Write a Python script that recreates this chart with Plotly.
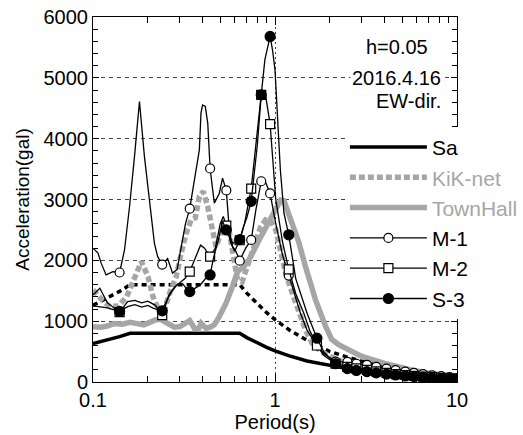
import plotly.graph_objects as go

# ---------------- data ----------------
sa_T = [0.1, 0.12, 0.14, 0.16, 0.64, 0.7, 0.8, 0.9, 1.0, 1.2, 1.5, 2, 2.5, 3, 4, 5, 6, 8, 10]
sa_A = [630, 690, 745, 800, 800, 730, 640, 570, 512, 430, 345, 270, 215, 175, 130, 105, 88, 66, 52]

sa2_T = [0.1, 0.12, 0.14, 0.16, 0.64, 0.7, 0.8, 0.9, 1.0, 1.2, 1.5, 2, 2.5, 3, 4, 5, 6, 8, 10]
sa2_A = [1260, 1380, 1490, 1600, 1600, 1460, 1280, 1140, 1024, 855, 685, 500, 410, 340, 256, 205, 170, 128, 102]

kik_T = [0.1, 0.112, 0.124, 0.138, 0.153, 0.166, 0.1845, 0.2006, 0.2136, 0.2274, 0.242, 0.2636,
         0.2866, 0.305, 0.325, 0.346, 0.365, 0.384, 0.404, 0.427, 0.454, 0.474, 0.505, 0.538,
         0.555, 0.584, 0.622, 0.66, 0.706, 0.768, 0.835, 0.889, 0.947, 1.01, 1.075, 1.144,
         1.244, 1.353, 1.472, 1.6, 1.8, 2.0, 2.5, 3, 4, 5, 7, 10]
kik_A = [1513, 1350, 1240, 1250, 1400, 1680, 1980, 1730, 1400, 1210, 1100, 1460,
         1730, 2115, 2445, 2665, 2700, 3050, 3130, 2880, 2445, 2225, 2445, 2665,
         2550, 2115, 1680, 1650, 1900, 2280, 2555, 2665, 2650, 2500, 2115, 1790,
         1460, 1130, 855, 635, 500, 420, 300, 240, 170, 130, 90, 60]

town_T = [0.1, 0.11, 0.12, 0.13, 0.145, 0.16, 0.175, 0.19, 0.205, 0.22, 0.235, 0.25, 0.265,
          0.28, 0.3, 0.32, 0.34, 0.361, 0.38, 0.393, 0.418, 0.44, 0.464, 0.494, 0.538, 0.584,
          0.622, 0.677, 0.736, 0.818, 0.947, 1.075, 1.12, 1.2, 1.27, 1.35, 1.47, 1.67, 1.9,
          2.05, 2.25, 2.44, 3.0, 4.0, 5.6, 7.5, 10]
town_A = [910, 900, 920, 960, 950, 980, 960, 940, 980, 1020, 1030, 990, 930,
          900, 910, 960, 1010, 880, 870, 965, 880, 900, 940, 1075, 1295, 1570,
          1815, 1900, 2060, 2335, 2665, 2990, 2980, 2750, 2550, 2300, 1900, 1350, 910,
          700, 610, 560, 420, 305, 197, 130, 87]

m1_T = [0.1, 0.1065, 0.111, 0.118, 0.1286, 0.14, 0.149, 0.1587, 0.169, 0.18, 0.1917, 0.204,
        0.2175, 0.2266, 0.24, 0.257, 0.2736, 0.29, 0.3038, 0.322, 0.34, 0.353, 0.369, 0.384,
        0.392, 0.4, 0.414, 0.427, 0.44, 0.464, 0.494, 0.515, 0.54, 0.561, 0.584, 0.61, 0.64,
        0.69, 0.74, 0.785, 0.84, 0.875, 0.94, 1.01, 1.097, 1.19, 1.3, 1.38, 1.5, 1.7, 1.85,
        2.15, 2.5, 2.8, 3.2, 3.6, 4.1, 4.6, 5.2, 5.8, 6.5, 7.3, 8.2, 9.1, 10]
m1_A = [2200, 2120, 1950, 1760, 1815, 1800, 2170, 2880, 3705, 4610, 3705, 2990,
        2280, 2060, 1930, 2030, 1790, 1850, 2170, 2600, 2850, 3160, 3490, 3815,
        4420, 4555, 4530, 4255, 3510, 2940, 3100, 3350, 3150, 2500, 2225, 2150, 1995,
        2200, 2335, 2830, 3300, 3330, 3100, 2600, 2100, 1750, 1400, 1130, 850, 600, 470,
        335, 330, 300, 280, 250, 220, 195, 170, 150, 130, 110, 95, 80, 65]

m2_T = [0.1, 0.109, 0.12, 0.14, 0.155, 0.17, 0.185, 0.2, 0.22, 0.24, 0.25, 0.26, 0.28, 0.30,
        0.32, 0.34, 0.37, 0.39, 0.41, 0.44, 0.47, 0.5, 0.52, 0.54, 0.57, 0.6, 0.64, 0.68,
        0.74, 0.8, 0.84, 0.88, 0.94, 1.01, 1.1, 1.19, 1.3, 1.44, 1.55, 1.7, 1.85, 2.15, 2.5,
        2.8, 3.2, 3.6, 4.1, 4.6, 5.2, 5.8, 6.5, 7.3, 8.2, 9.1, 10]
m2_A = [1430, 1540, 1300, 1150, 1320, 1340, 1300, 1330, 1260, 1100, 1250, 1420, 1560, 1640,
        1700, 1815, 2100, 2250, 2200, 2060, 2200, 2600, 2720, 2570, 2300, 2150, 2330, 2600,
        3180, 4100, 4720, 4780, 4240, 3000, 2300, 1850, 1450, 1130, 850, 600, 440, 300, 250,
        225, 200, 175, 150, 130, 115, 100, 90, 80, 70, 60, 50]

s3_T = [0.1, 0.12, 0.14, 0.155, 0.17, 0.185, 0.2, 0.215, 0.24, 0.25, 0.27, 0.29, 0.31, 0.325,
        0.34, 0.36, 0.39, 0.415, 0.44, 0.46, 0.49, 0.515, 0.54, 0.56, 0.585, 0.61, 0.64, 0.67,
        0.7, 0.74, 0.8, 0.84, 0.88, 0.94, 0.97, 1.0, 1.03, 1.07, 1.12, 1.19, 1.3, 1.5, 1.7,
        1.85, 2.15, 2.5, 2.8, 3.2, 3.6, 4.1, 4.6, 5.2, 5.8, 6.5, 7.3, 8.2, 9.1, 10]
s3_A = [1250, 1220, 1160, 1240, 1270, 1230, 1260, 1210, 1170, 1300, 1480, 1600, 1620, 1540,
        1485, 1530, 1600, 1700, 1760, 2050, 2350, 2640, 2500, 2380, 2280, 2300, 2340, 2550,
        2700, 2970, 3900, 4720, 5300, 5680, 5450, 5130, 4310, 3490, 2775, 2420, 1700, 1130, 720,
        500, 300, 220, 190, 170, 150, 130, 115, 100, 90, 80, 70, 60, 52, 45]

# periods at which symbols are drawn on the model curves
marker_T = [0.14, 0.24, 0.34, 0.44, 0.54, 0.64, 0.74, 0.84, 0.94, 1.19, 1.7, 2.15, 2.5, 2.8,
            3.2, 3.6, 4.1, 4.6, 5.2, 5.8, 6.5, 7.3, 8.2, 9.1, 10]

GRAY = "#a6a6a6"
FONT = "Liberation Sans, Arial, sans-serif"

fig = go.Figure()

fig.add_trace(go.Scatter(x=sa2_T, y=sa2_A, mode="lines", showlegend=False,
                         line=dict(color="black", width=3.5, dash="5px,4px")))
fig.add_trace(go.Scatter(x=sa_T, y=sa_A, mode="lines", showlegend=False,
                         line=dict(color="black", width=3.5)))
fig.add_trace(go.Scatter(x=kik_T, y=kik_A, mode="lines", showlegend=False,
                         line=dict(color=GRAY, width=5.5, dash="6px,3px")))
fig.add_trace(go.Scatter(x=town_T, y=town_A, mode="lines", showlegend=False,
                         line=dict(color=GRAY, width=5.5)))


def model(T, A, symbol, fill):
    fig.add_trace(go.Scatter(x=T, y=A, mode="lines", showlegend=False,
                             line=dict(color="black", width=1.3)))
    idx = [i for i, t in enumerate(T) if t in marker_T]
    fig.add_trace(go.Scatter(x=[T[i] for i in idx], y=[A[i] for i in idx], mode="markers",
                             showlegend=False,
                             marker=dict(symbol=symbol, size=10 if fill == "black" else 9,
                                         color=fill, line=dict(color="black", width=1.2))))


model(m1_T, m1_A, "circle", "white")
model(m2_T, m2_A, "square", "white")
model(s3_T, s3_A, "circle", "black")


# legend entries
def leg(name, line, marker=None):
    fig.add_trace(go.Scatter(x=[None], y=[None], name=name,
                             mode="lines+markers" if marker else "lines",
                             line=line, marker=marker))


leg("Sa", dict(color="black", width=3.5))
leg("<span style='color:%s'>KiK-net</span>" % GRAY, dict(color=GRAY, width=5.5, dash="6px,3px"))
leg("<span style='color:%s'>TownHall</span>" % GRAY, dict(color=GRAY, width=5.5))
leg("M-1", dict(color="black", width=1.3),
    dict(symbol="circle", size=9, color="white", line=dict(color="black", width=1.2)))
leg("M-2", dict(color="black", width=1.3),
    dict(symbol="square", size=9, color="white", line=dict(color="black", width=1.2)))
leg("S-3", dict(color="black", width=1.3),
    dict(symbol="circle", size=10, color="black", line=dict(color="black", width=1.2)))

fig.update_layout(
    width=523, height=435,
    margin=dict(l=93, r=66, t=17, b=53, autoexpand=False),
    paper_bgcolor="white", plot_bgcolor="white",
    font=dict(family=FONT, size=20, color="black"),
    legend=dict(x=0.692, y=0.699, xanchor="left", yanchor="top", bgcolor="white",
                borderwidth=0, itemwidth=77, font=dict(size=21), traceorder="normal",
                itemclick=False),
    xaxis=dict(type="log", range=[-1, 1], tickvals=[0.1, 1, 10], ticktext=["0.1", "1", "10"],
               ticks="inside", ticklen=8, tickcolor="black", showline=True, linecolor="black",
               linewidth=1, mirror="ticks", showgrid=True, gridcolor="#444", griddash="2px,3px",
               gridwidth=1, zeroline=False, tickfont=dict(size=20),
               minor=dict(tickvals=[0.2, 0.3, 0.4, 0.5, 0.6, 0.7, 0.8, 0.9, 2, 3, 4, 5, 6, 7, 8, 9],
                          ticks="inside", ticklen=6, tickcolor="black", showgrid=False),
               title=dict(text="Period(s)", standoff=4, font=dict(size=20))),
    yaxis=dict(range=[0, 6000], dtick=1000, ticks="inside", ticklen=6, tickcolor="black",
               showline=True, linecolor="black", linewidth=1, mirror="ticks", showgrid=True,
               gridcolor="#444", griddash="4px,4px", gridwidth=1, zeroline=False,
               tickfont=dict(size=20),
               minor=dict(dtick=200, ticks="inside", ticklen=5, tickcolor="black", showgrid=False),
               title=dict(text="Acceleration(gal)", standoff=8, font=dict(size=19))),
    annotations=[
        dict(text="h=0.05", xref="paper", yref="paper", x=0.835, y=0.918, showarrow=False,
             xanchor="center", yanchor="middle", font=dict(size=20), bgcolor="white"),
        dict(text="2016.4.16", xref="paper", yref="paper", x=0.834, y=0.834, showarrow=False,
             xanchor="center", yanchor="middle", font=dict(size=20), bgcolor="white"),
        dict(text="EW-dir.", xref="paper", yref="paper", x=0.9615, y=0.77, showarrow=False,
             xanchor="right", yanchor="middle", font=dict(size=20), bgcolor="white"),
    ],
)

fig.write_html("out.html", config={"displayModeBar": False},
               post_script="document.body.style.margin='0';")
